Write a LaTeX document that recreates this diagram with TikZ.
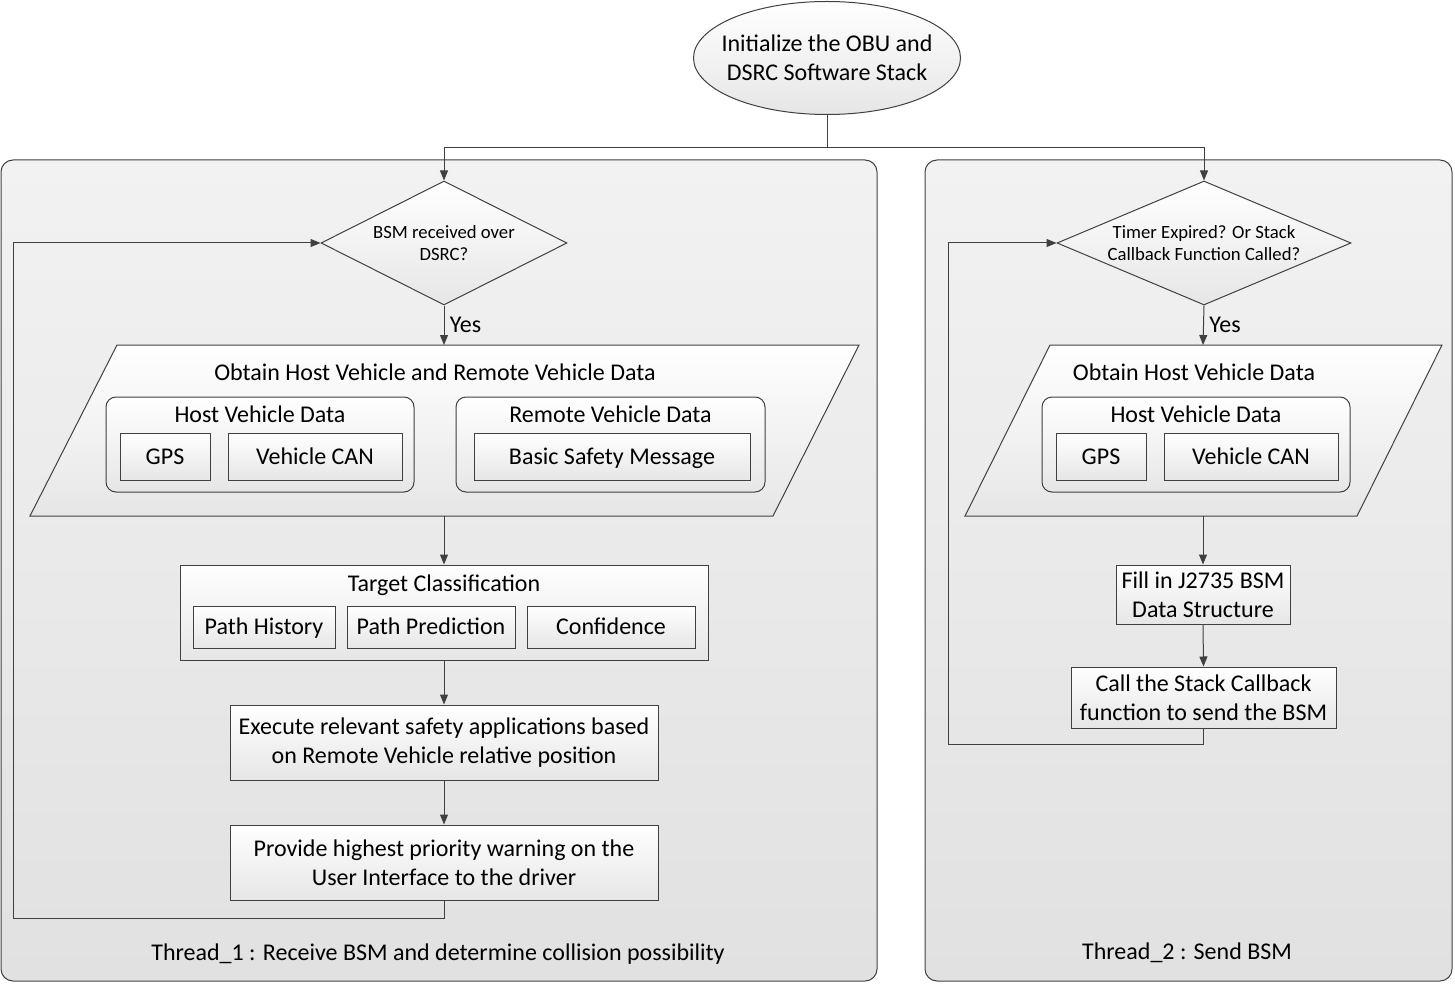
\documentclass[tikz,border=0pt]{standalone}
\usepackage{fontspec}
\setmainfont{Carlito}
\usetikzlibrary{arrows.meta, shapes.geometric}
\definecolor{linegray}{HTML}{404040}
\definecolor{paneltop}{HTML}{F2F2F2}
\definecolor{panelbot}{HTML}{E1E1E1}
\definecolor{shapebot}{HTML}{E6E6E6}

\begin{document}
\begin{tikzpicture}[x=1pt, y=-1pt,
                    link/.style={draw=linegray, line width=1pt},
                    flow/.style={link, -{Triangle[length=10pt, width=8pt]}},
                    panel/.style={rectangle, rounded corners=12pt, draw=linegray, line width=1pt,
                                  top color=paneltop, bottom color=panelbot, inner sep=0pt},
                    procbox/.style={rectangle, draw=linegray, line width=1pt, top color=white,
                                    bottom color=shapebot, inner sep=0pt, align=center},
                    itembox/.style={procbox, text height=18pt, text depth=3pt},
                    groupbox/.style={procbox, rounded corners=10pt},
                    datashape/.style={draw=linegray, line width=1pt, top color=white, bottom color=shapebot},
                    decision/.style={diamond, draw=linegray, line width=1pt, top color=white,
                                     bottom color=shapebot, inner sep=0pt, aspect=2.4, align=center,
                                     font=\fontsize{18.7pt}{22pt}\selectfont},
                    terminal/.style={ellipse, draw=linegray, line width=1pt, top color=white,
                                     bottom color=shapebot, inner xsep=-16pt, inner ysep=0pt, align=center},
                    font=\fontsize{24pt}{29pt}\selectfont]
  \useasboundingbox (0, 0) rectangle (1455, 984);

  % Thread panels.
  \node at (439, 570.5) [panel, minimum width=876, minimum height=821, name=ThreadOne] {};
  \node at (1188.5, 570.5) [panel, minimum width=527, minimum height=821, name=ThreadTwo] {};
  \node at (438, 954) [name=ThreadOneLabel] {Thread\_1 : Receive BSM and determine collision possibility};
  \node at (1187, 953) [name=ThreadTwoLabel] {Thread\_2 : Send BSM};

  % Start.
  \node at (827, 58) [terminal, minimum width=267, minimum height=113, name=Init] {Initialize the OBU and\\DSRC Software Stack};
  \coordinate (Split) at (827, 148);

  % Thread_1 : receive side.
  \node at (444, 243) [decision, minimum width=246, minimum height=124, name=RecvBSM] {BSM received over\\DSRC?};
  \path [datashape] (117, 345) -- (859, 345) -- (773, 516) -- (30, 516) -- cycle;
  \coordinate (ObtainBothIn) at (444, 345);
  \coordinate (ObtainBothOut) at (444, 516);
  \node at (435, 372) [name=ObtainBothTitle] {Obtain Host Vehicle and Remote Vehicle Data};
  \node at (260, 444.5) [groupbox, minimum width=308, minimum height=95, name=HostDataA] {};
  \node at (260, 414) [name=HostDataATitle] {Host Vehicle Data};
  \node at (165, 456.5) [itembox, minimum width=90, minimum height=47, name=GPSA] {GPS};
  \node at (315, 456.5) [itembox, minimum width=174, minimum height=47, name=CANA] {Vehicle CAN};
  \node at (610.5, 444.5) [groupbox, minimum width=309, minimum height=95, name=RemoteData] {};
  \node at (610.5, 414) [name=RemoteDataTitle] {Remote Vehicle Data};
  \node at (612, 456.5) [itembox, minimum width=276, minimum height=47, name=BasicMsg] {Basic Safety Message};

  \node at (444, 612.5) [procbox, minimum width=528, minimum height=95, name=Target] {};
  \node at (444, 585) [name=TargetTitle] {Target Classification};
  \node at (264, 627) [itembox, minimum width=142, minimum height=42, name=PathHistory] {Path History};
  \node at (431, 627) [itembox, minimum width=168, minimum height=42, name=PathPrediction] {Path Prediction};
  \node at (611, 627) [itembox, minimum width=168, minimum height=42, name=Confidence] {Confidence};

  \node at (444, 742.5) [procbox, minimum width=428, minimum height=75, name=Execute] {Execute relevant safety applications based\\on Remote Vehicle relative position};
  \node at (444, 862.5) [procbox, minimum width=428, minimum height=75, name=Provide] {Provide highest priority warning on the\\User Interface to the driver};
  \coordinate (LoopA) at (13, 918);

  % Thread_2 : send side.
  \node at (1204, 243) [decision, minimum width=294, minimum height=124, name=TimerCheck] {Timer Expired? Or Stack\\Callback Function Called?};
  \path [datashape] (1050, 345) -- (1442, 345) -- (1357, 516) -- (965, 516) -- cycle;
  \coordinate (ObtainHostIn) at (1203, 345);
  \coordinate (ObtainHostOut) at (1203, 516);
  \node at (1194, 372) [name=ObtainHostTitle] {Obtain Host Vehicle Data};
  \node at (1196, 444.5) [groupbox, minimum width=308, minimum height=95, name=HostDataB] {};
  \node at (1196, 414) [name=HostDataBTitle] {Host Vehicle Data};
  \node at (1101, 456.5) [itembox, minimum width=90, minimum height=47, name=GPSB] {GPS};
  \node at (1251, 456.5) [itembox, minimum width=174, minimum height=47, name=CANB] {Vehicle CAN};
  \node at (1203, 594.5) [procbox, minimum width=174, minimum height=59, name=FillBSM] {Fill in J2735 BSM\\Data Structure};
  \node at (1203.5, 697.5) [procbox, minimum width=265, minimum height=61, name=CallStack] {Call the Stack Callback\\function to send the BSM};
  \coordinate (LoopB) at (948, 744);

  % Connectors.
  \draw [link] (Init.south) -- (Split);
  \draw [flow] (Split) -| (RecvBSM.north);
  \draw [flow] (Split) -| (TimerCheck.north);

  \draw [flow] (RecvBSM.south) -- node [right, xshift=2pt] {Yes} (ObtainBothIn);
  \draw [flow] (ObtainBothOut) -- (Target.north);
  \draw [flow] (Target.south) -- (Execute.north);
  \draw [flow] (Execute.south) -- (Provide.north);
  \draw [flow] (Provide.south) |- (LoopA) |- (RecvBSM.west);

  \draw [flow] (TimerCheck.south) -- node [right, xshift=2pt] {Yes} (ObtainHostIn);
  \draw [flow] (ObtainHostOut) -- (FillBSM.north);
  \draw [flow] (FillBSM.south) -- (CallStack.north);
  \draw [flow] (CallStack.south) |- (LoopB) |- (TimerCheck.west);
\end{tikzpicture}
\end{document}
